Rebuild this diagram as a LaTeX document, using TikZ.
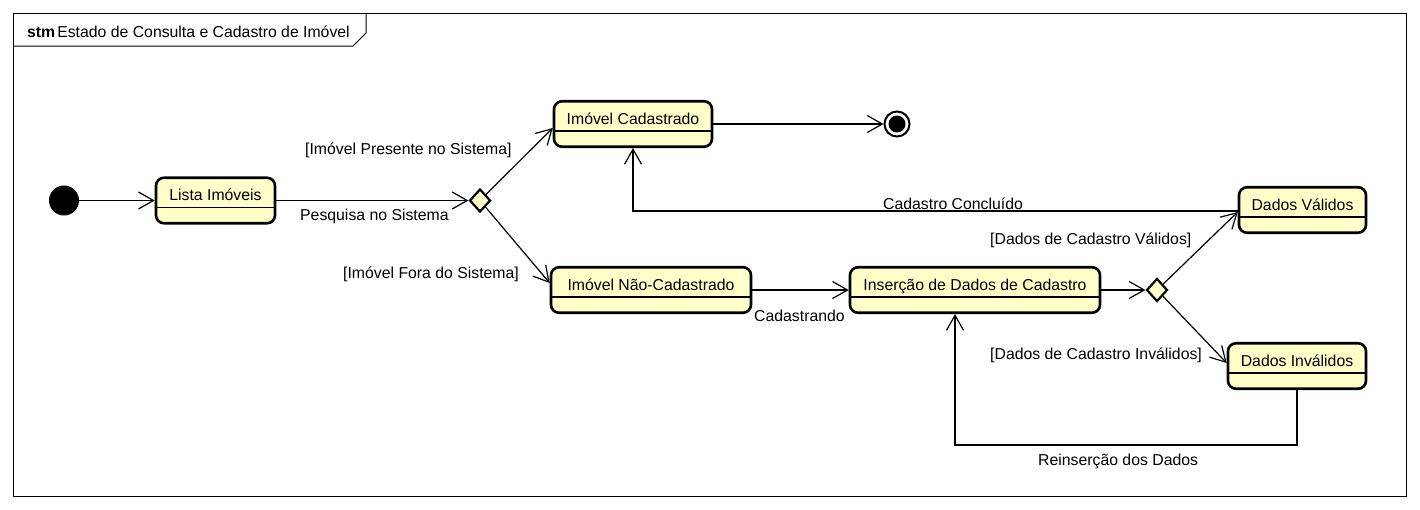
\documentclass[tikz,border=0pt]{standalone}
\usepackage{fontspec}
\setmainfont{Liberation Sans}
\usetikzlibrary{arrows.meta,shapes.geometric,calc}
\definecolor{stfill}{RGB}{255,255,202}
\tikzset{
  stbox/.style={draw, rounded corners=8pt, line width=2.6pt, fill=stfill, minimum height=45.5pt, inner sep=0},
  sttext/.style={anchor=base, inner sep=0},
  divider/.style={line width=1.3pt},
  arr/.style={-{Straight Barb[length=15pt,width=17pt]}, line width=1.2pt},
  lbl/.style={anchor=base west, inner sep=0},
  choice/.style={diamond, draw, fill=stfill, line width=2.2pt, minimum width=21pt, minimum height=23pt, inner sep=0},
}
\newcommand\mkstate[5]{%
  \node[stbox, minimum width=#4] (#1) at (#2,{#3+24}) {};
  \node[sttext] (#1-t) at (#2,{#3+24}) {#5};
  \draw[divider] ([yshift=-7pt]#1.west) -- ([yshift=-7pt]#1.east);
}
\begin{document}
\begin{tikzpicture}[x=1pt,y=-1pt,font=\fontsize{15.8}{18}\selectfont]
\useasboundingbox (0,0) rectangle (1420,509);
% frame
\draw[line width=1pt] (13,13) rectangle (1406,496);
\draw[line width=1pt] (13,46) -- (353,46) -- (366,33) -- (366,13);
\node[anchor=base west, inner sep=0] (hdr) at (27,37) {\textbf{stm}\hspace{2pt}Estado de Consulta e Cadastro de Imóvel};
% initial / final
\node[circle, fill=black, minimum size=30pt, inner sep=0] (init) at (64,200.5) {};
\node[circle, draw, line width=2pt, fill=white, minimum size=25pt, inner sep=0] (fin) at (897,124) {};
\node[circle, fill=black, minimum size=17pt, inner sep=0] (finin) at (fin.center) {};
% states
\mkstate{lista}{215.5}{176.5}{119pt}{Lista Imóveis}
\mkstate{cad}{633}{100}{158pt}{Imóvel Cadastrado}
\mkstate{nc}{651}{266}{200pt}{Imóvel Não-Cadastrado}
\mkstate{ins}{975}{266}{250pt}{Inserção de Dados de Cadastro}
\mkstate{dv}{1302.5}{186}{127pt}{Dados Válidos}
\mkstate{di}{1297}{342}{138pt}{Dados Inválidos}
% choices
\node[choice] (d1) at (480,200.5) {};
\node[choice] (d2) at (1157,290) {};
% transitions
\draw[arr] (init) -- (lista);
\draw[arr] (lista) -- (d1);
\draw[arr] (d1) -- ([yshift=-4pt]cad.west);
\draw[arr] (d1) -- ([yshift=7pt]nc.west);
\draw[arr] (cad) -- (fin);
\draw[arr] (nc) -- (ins);
\draw[arr] (ins) -- (d2);
\draw[arr] (d2) -- ([yshift=-2pt]dv.west);
\draw[arr] (d2) -- ([yshift=3pt]di.west);
\draw[arr] ([yshift=-1pt]dv.west) -| (cad.south);
\draw[arr] (di.south) -- ++(0,55) -| ([xshift=-20pt]ins.south);
% labels
\node[lbl] (l1) at (300,220) {Pesquisa no Sistema};
\node[lbl] (l2) at (305,154) {[Imóvel Presente no Sistema]};
\node[lbl] (l3) at (343,278) {[Imóvel Fora do Sistema]};
\node[lbl] (l4) at (754,321) {Cadastrando};
\node[lbl] (l5) at (883,209) {Cadastro Concluído};
\node[lbl] (l6) at (990,244) {[Dados de Cadastro Válidos]};
\node[lbl] (l7) at (990,359) {[Dados de Cadastro Inválidos]};
\node[lbl] (l8) at (1038,465) {Reinserção dos Dados};
\end{tikzpicture}
\end{document}
